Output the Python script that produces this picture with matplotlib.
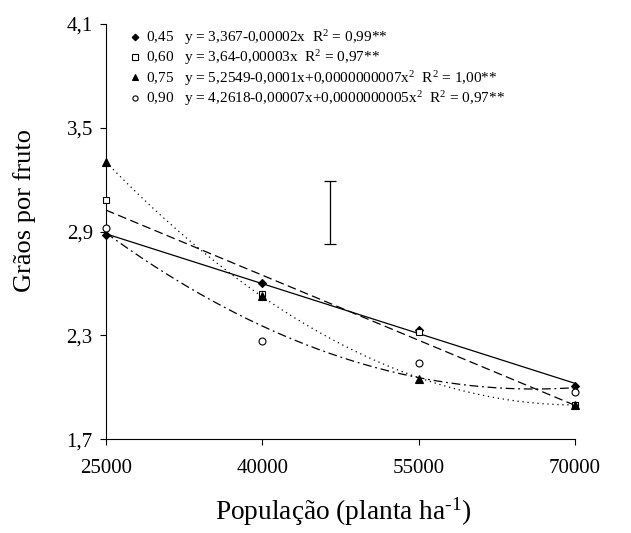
import numpy as np
import matplotlib
matplotlib.use("Agg")
import matplotlib.pyplot as plt

plt.rcParams['font.family'] = ['Liberation Serif', 'DejaVu Serif']
plt.rcParams['mathtext.fontset'] = 'custom'
plt.rcParams['mathtext.rm'] = 'Liberation Serif'
plt.rcParams['mathtext.it'] = 'Liberation Serif:italic'

populacao = [25000, 40000, 55000, 70000]
g_045 = [2.88, 2.60, 2.33, 2.01]
g_060 = [3.08, 2.54, 2.32, 1.90]
g_075 = [3.30, 2.53, 2.05, 1.90]
g_090 = [2.92, 2.27, 2.14, 1.97]

labels = [
    "0,45   y = 3,367-0,00002x  R$^2$ = 0,99**",
    "0,60   y = 3,64-0,00003x  R$^2$ = 0,97**",
    "0,75   y = 5,2549-0,0001x+0,0000000007x$^2$  R$^2$ = 1,00**",
    "0,90   y = 4,2618-0,00007x+0,0000000005x$^2$  R$^2$ = 0,97**",
]
series = [g_045, g_060, g_075, g_090]
degrees = [1, 1, 2, 2]
markers = ['D', 's', '^', 'o']
faces = ['black', 'white', 'black', 'white']
msizes = [4.5, 5, 5.5, 5]
styles = ['-', (0, (7, 3.5)), (0, (1, 3)), (0, (7, 3, 1.5, 3))]

# DMS bar
dms_x = 46500
dms_lo, dms_hi = 2.83, 3.19

fig = plt.figure(figsize=(6.31, 5.33), dpi=100)
ax = fig.add_axes([0.168, 0.176, 0.743, 0.779])

xs = np.linspace(25000, 70000, 200)
handles = []
for vals, deg, m, fc, ms, ls, lab in zip(series, degrees, markers, faces, msizes, styles, labels):
    coef = np.polyfit(populacao, vals, deg)
    ax.plot(xs, np.polyval(coef, xs), color='black', lw=0.9, linestyle=ls)
    h, = ax.plot(populacao, vals, linestyle='none', marker=m, ms=ms,
                 markerfacecolor=fc, markeredgecolor='black', markeredgewidth=0.8,
                 label=lab, clip_on=False, zorder=5)
    handles.append(h)

ax.errorbar([dms_x], [(dms_lo + dms_hi) / 2], yerr=[(dms_hi - dms_lo) / 2],
            color='black', lw=0.9, capsize=4.5, capthick=0.9)

ax.set_xlim(25000, 70000)
ax.set_ylim(1.7, 4.1)
ax.set_xticks(populacao)
ax.set_xticklabels([str(p) for p in populacao])
yt = [1.7, 2.3, 2.9, 3.5, 4.1]
ax.set_yticks(yt)
ax.set_yticklabels([f"{v:.1f}".replace('.', ',') for v in yt])
ax.tick_params(direction='out', labelsize=15, length=4.5, width=0.8)
ax.tick_params(axis='x', pad=10)
ax.tick_params(axis='y', pad=5)
for s in ['top', 'right']:
    ax.spines[s].set_visible(False)
for s in ['left', 'bottom']:
    ax.spines[s].set_linewidth(0.8)

ax.set_xlabel("População (planta ha$^{\\text{-}1}$)", fontsize=19.7)
ax.set_ylabel("Grãos por fruto", fontsize=19)
ax.xaxis.set_label_coords(0.505, -0.135)
ax.yaxis.set_label_coords(-0.15, 0.55)

ax.legend(handles=handles, loc='upper left', bbox_to_anchor=(0.04, 1.005),
          frameon=False, fontsize=11, handlelength=0.6, handletextpad=0.4,
          labelspacing=0.1, borderaxespad=0, markerscale=0.75)

fig.savefig("out.png", dpi=100)
